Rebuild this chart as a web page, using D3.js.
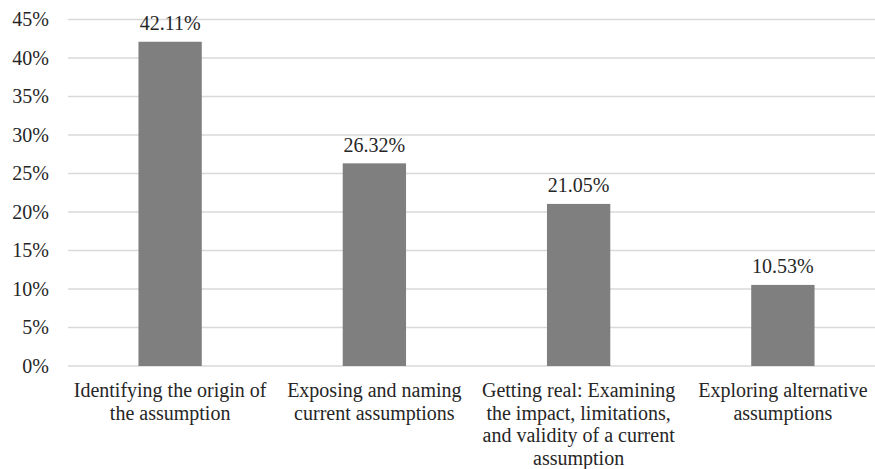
<!DOCTYPE html>
<html>
<head>
<meta charset="utf-8">
<script src="https://cdn.jsdelivr.net/npm/d3@7"></script>
</head>
<body style="margin:0">
<svg id="s" width="875" height="469"></svg>
<script>
// Share of responses per category
const categories = [
  "Identifying the origin of\nthe assumption",
  "Exposing and naming\ncurrent assumptions",
  "Getting real: Examining\nthe impact, limitations,\nand validity of a current\nassumption",
  "Exploring alternative\nassumptions"
];
const values = [42.11, 26.32, 21.05, 10.53];
const yTicks = [0, 5, 10, 15, 20, 25, 30, 35, 40, 45];

const TEXT_COLOR = "#262626";
const W = 875, H = 469;
const margin = { left: 68, right: -10, top: 19.5, bottom: 103 };

const svg = d3.select("#s");

const x = d3.scaleBand()
  .domain(categories)
  .range([margin.left, W - margin.right])
  .paddingInner(0.69)
  .paddingOuter(0.345);

const y = d3.scaleLinear()
  .domain([0, 45])
  .range([H - margin.bottom, margin.top]);

// Horizontal gridlines
svg.selectAll("line.grid")
  .data(yTicks)
  .join("line")
  .attr("class", "grid")
  .attr("x1", margin.left)
  .attr("x2", W)
  .attr("y1", d => y(d))
  .attr("y2", d => y(d))
  .attr("stroke", "#d9d9d9")
  .attr("stroke-width", 1.5);

// Bars
svg.selectAll("rect.bar")
  .data(values)
  .join("rect")
  .attr("class", "bar")
  .attr("x", (d, i) => x(categories[i]))
  .attr("width", x.bandwidth())
  .attr("y", d => y(d))
  .attr("height", d => y(0) - y(d))
  .attr("fill", "#7f7f7f");

// Y axis labels
svg.selectAll("text.ytick")
  .data(yTicks)
  .join("text")
  .attr("class", "ytick")
  .attr("x", margin.left - 19)
  .attr("y", d => y(d) + 6.5)
  .attr("text-anchor", "end")
  .attr("fill", TEXT_COLOR)
  .style("font-family", d => "'Liberation Serif'")
  .style("font-size", "20px")
  .text(d => d + "%");

// Value labels above bars
svg.selectAll("text.value")
  .data(values)
  .join("text")
  .attr("class", "value")
  .attr("x", (d, i) => x(categories[i]) + x.bandwidth() / 2)
  .attr("y", d => y(d) - 11.5)
  .attr("text-anchor", "middle")
  .attr("fill", TEXT_COLOR)
  .style("font-family", d => "'Liberation Serif'")
  .style("font-size", "20px")
  .text(d => d.toFixed(2) + "%");

// Category labels, one text element per line
const catLines = [];
categories.forEach(c => {
  c.split("\n").forEach((line, j) => catLines.push({ c, line, j }));
});
svg.selectAll("text.cat")
  .data(catLines)
  .join("text")
  .attr("class", "cat")
  .attr("x", d => x(d.c) + x.bandwidth() / 2)
  .attr("y", d => y(0) + 31 + d.j * 22.7)
  .attr("text-anchor", "middle")
  .attr("fill", TEXT_COLOR)
  .style("font-family", d => "'Liberation Serif'")
  .style("font-size", "20px")
  .text(d => d.line);
</script>
</body>
</html>
